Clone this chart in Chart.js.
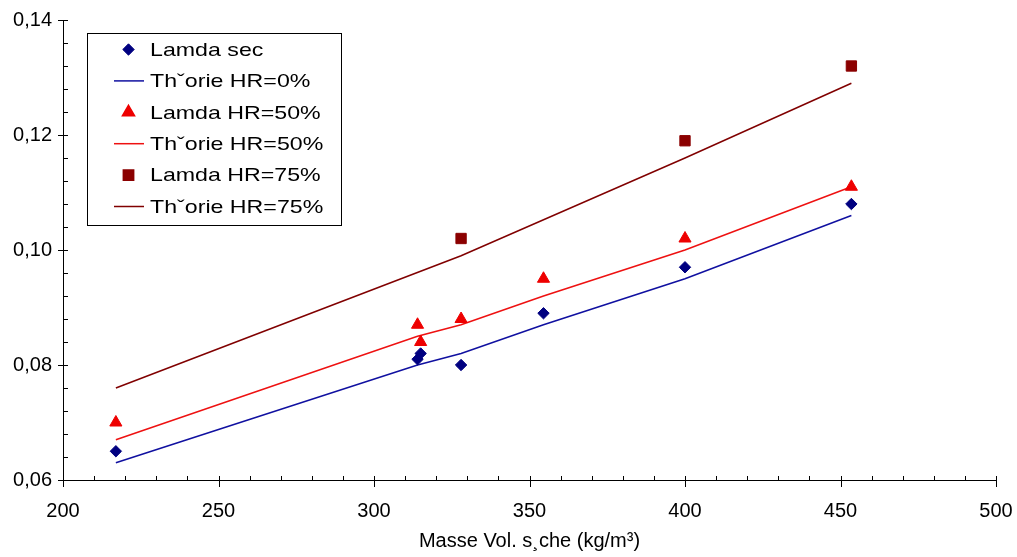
<!DOCTYPE html>
<html>
<head>
<meta charset="utf-8">
<script src="https://cdn.jsdelivr.net/npm/chart.js@4/dist/chart.umd.min.js"></script>
<style>
  html, body { margin: 0; padding: 0; background: #fff; }
  #wrap { width: 1017px; height: 557px; }
</style>
</head>
<body>
<div id="wrap"><canvas id="graphique"></canvas></div>
<script>
// masse volumique seche (kg/m3)
const xMesures = [217, 314, 315, 328, 354.5, 400, 453.5];
const xTheorie = [217, 314, 328, 354.5, 400, 453.5];
const xHR75 = [328, 400, 453.5];
const xTheorie75 = [217, 328, 400, 453.5];

// conductivites
const lamdaSec = [0.065, 0.081, 0.082, 0.080, 0.089, 0.097, 0.108];
const theorieHR0 = [0.063, 0.080, 0.082, 0.087, 0.095, 0.106];
const lamdaHR50 = [0.070, 0.087, 0.084, 0.088, 0.095, 0.102, 0.111];
const theorieHR50 = [0.067, 0.085, 0.087, 0.092, 0.100, 0.111];
const lamdaHR75 = [0.102, 0.119, 0.132];
const theorieHR75 = [0.076, 0.099, 0.116, 0.129];

const xTicks = [200, 250, 300, 350, 400, 450, 500];
const yTicks = [0.06, 0.08, 0.10, 0.12, 0.14];

const police = 'Liberation Sans, Arial, sans-serif';

function points(xs, ys) {
    return xs.map((x, i) => ({ x: x, y: ys[i] }));
}

const traitsEtLegende = {
    id: 'traitsEtLegende',
    afterDraw(chart) {
        const { ctx, scales: { x, y } } = chart;
        const bas = Math.round(y.getPixelForValue(yTicks[0]));
        const gauche = Math.round(x.getPixelForValue(xTicks[0]));
        ctx.save();
        ctx.strokeStyle = '#000';
        ctx.lineWidth = 1;
        ctx.beginPath();
        // graduations x : mineures tous les 10
        for (let v = xTicks[0]; v <= xTicks[xTicks.length - 1]; v += 10) {
            const px = Math.round(x.getPixelForValue(v)) + 0.5;
            const majeure = v % 50 === 0;
            ctx.moveTo(px, bas - 4);
            ctx.lineTo(px, majeure ? bas + 7 : bas);
        }
        // graduations y : mineures tous les 0,004
        for (let i = 0; i <= 20; i++) {
            const v = yTicks[0] + i * 0.004;
            const py = Math.round(y.getPixelForValue(v)) + 0.5;
            const majeure = i % 5 === 0;
            ctx.moveTo(majeure ? gauche - 5 : gauche, py);
            ctx.lineTo(gauche + 5, py);
        }
        ctx.stroke();

        // legende dans la zone du graphique
        ctx.fillStyle = '#fff';
        ctx.fillRect(88, 34, 254, 192);
        ctx.strokeRect(87.5, 33.5, 254, 192);
        ctx.font = '19px ' + police;
        ctx.textBaseline = 'middle';
        chart.data.datasets.forEach((ds, i) => {
            const ly = 49.5 + i * 31.4;
            if (ds.showLine) {
                ctx.strokeStyle = ds.borderColor;
                ctx.lineWidth = ds.borderWidth;
                ctx.beginPath();
                ctx.moveTo(114, ly);
                ctx.lineTo(144, ly);
                ctx.stroke();
            } else {
                ctx.fillStyle = ds.backgroundColor;
                ctx.strokeStyle = ds.borderColor;
                Chart.helpers.drawPoint(ctx, {
                    pointStyle: ds.pointStyle,
                    radius: ds.pointRadius,
                    rotation: 0,
                    borderWidth: ds.pointBorderWidth
                }, 128.5, ly);
            }
            ctx.save();
            ctx.fillStyle = '#000';
            ctx.translate(150, ly + 1);
            ctx.scale(1.22, 1);
            ctx.fillText(ds.label, 0, 0);
            ctx.restore();
        });
        ctx.restore();
    }
};

function serieMesure(label, donnees, couleur, forme, rayon) {
    return {
        label: label,
        data: donnees,
        showLine: false,
        pointStyle: forme,
        pointRadius: rayon,
        pointBorderWidth: 1,
        backgroundColor: couleur,
        borderColor: couleur
    };
}

function serieTheorie(label, donnees, couleur) {
    return {
        label: label,
        data: donnees,
        showLine: true,
        pointRadius: 0,
        borderWidth: 1.5,
        borderColor: couleur,
        backgroundColor: couleur,
        tension: 0
    };
}

const graphique = new Chart(document.getElementById('graphique'), {
    type: 'scatter',
    data: {
        datasets: [
            serieMesure('Lamda sec', points(xMesures, lamdaSec), '#000080', 'rectRot', 5.7),
            serieTheorie('Th\u02c7orie HR=0%', points(xTheorie, theorieHR0), '#1010a0'),
            serieMesure('Lamda HR=50%', points(xMesures, lamdaHR50), '#ee0000', 'triangle', 7),
            serieTheorie('Th\u02c7orie HR=50%', points(xTheorie, theorieHR50), '#ee1111'),
            serieMesure('Lamda HR=75%', points(xHR75, lamdaHR75), '#8b0000', 'rect', 7.3),
            serieTheorie('Th\u02c7orie HR=75%', points(xTheorie75, theorieHR75), '#800000')
        ]
    },
    options: {
        responsive: true,
        maintainAspectRatio: false,
        animation: false,
        layout: { autoPadding: false, padding: { top: 20, right: 21, left: 0, bottom: 0 } },
        plugins: {
            legend: { display: false },
            tooltip: { enabled: false }
        },
        scales: {
            x: {
                type: 'linear',
                min: 200,
                max: 500,
                afterFit: (s) => { s.height = 77; s.paddingLeft = 0; s.paddingRight = 0; },
                afterBuildTicks: (s) => { s.ticks = xTicks.map(v => ({ value: v })); },
                grid: { display: false, drawTicks: false },
                border: { display: true, color: '#000', width: 1 },
                ticks: {
                    color: '#000',
                    padding: 19,
                    maxRotation: 0,
                    font: { family: police, size: 20 },
                    callback: (v) => String(v)
                },
                title: {
                    display: true,
                    text: 'Masse Vol. s\u00b8che (kg/m\u00b3)',
                    color: '#000',
                    font: { family: police, size: 20 },
                    padding: { top: 0, bottom: 4 }
                }
            },
            y: {
                type: 'linear',
                min: 0.06,
                max: 0.14,
                afterFit: (s) => { s.width = 63; s.paddingTop = 0; s.paddingBottom = 0; },
                afterBuildTicks: (s) => { s.ticks = yTicks.map(v => ({ value: v })); },
                grid: { display: false, drawTicks: false },
                border: { display: true, color: '#000', width: 1 },
                ticks: {
                    color: '#000',
                    padding: 11,
                    font: { family: police, size: 20 },
                    callback: (v) => v.toFixed(2).replace('.', ',')
                }
            }
        }
    },
    plugins: [traitsEtLegende]
});
</script>
</body>
</html>
